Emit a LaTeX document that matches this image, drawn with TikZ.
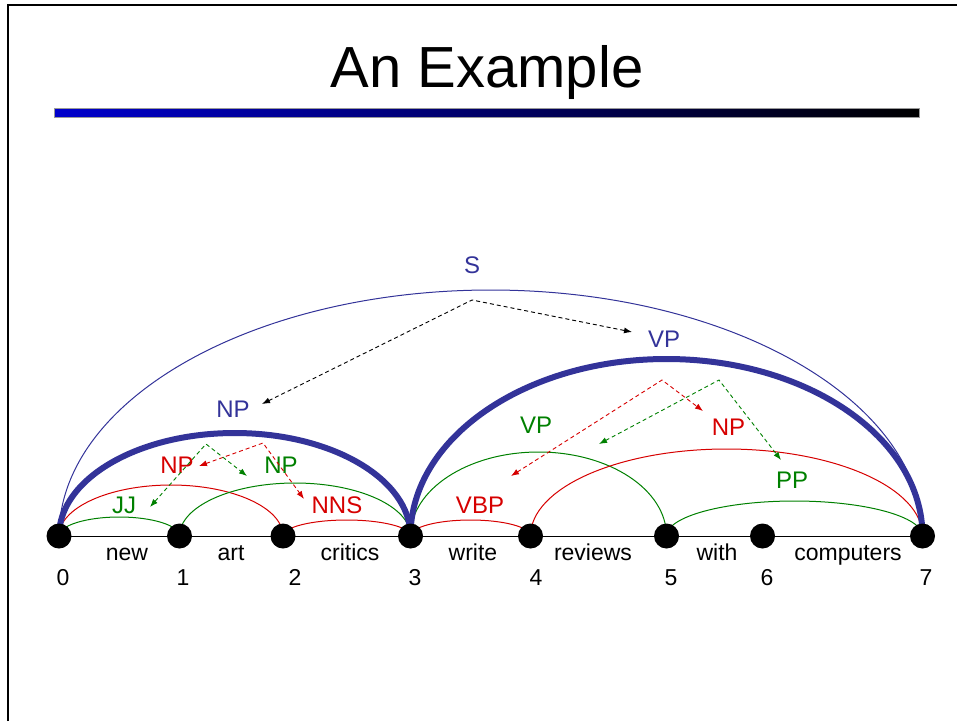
\documentclass[tikz,border=0pt]{standalone}
\usepackage{fontspec}
\setmainfont{Liberation Sans}
\usetikzlibrary{arrows.meta}
\definecolor{pblue}{RGB}{51,51,153}
\definecolor{pred}{RGB}{214,0,0}
\definecolor{pgreen}{RGB}{0,128,0}
\definecolor{barblue}{RGB}{0,0,204}
\tikzset{
  dotnode/.style={circle,fill=black,minimum size=25pt,inner sep=0pt},
  word/.style={anchor=base,inner sep=0pt,font=\fontsize{23}{26}\selectfont},
  lab/.style={anchor=base,inner sep=0pt,font=\fontsize{24}{27}\selectfont},
  thinarc/.style={line width=1pt},
  thickarc/.style={line width=6pt,pblue},
  darrow/.style={line width=0.9pt,dash pattern=on 4pt off 3pt,{Latex[length=8pt,width=6pt]}-{Latex[length=8pt,width=6pt]}},
}
\begin{document}
\begin{tikzpicture}[x=1pt,y=-1pt]
\useasboundingbox (0,0) rectangle (957,721);
% frame
\draw[line width=2pt] (8,721) -- (8,5) -- (957,5);
% title
\node[anchor=base,inner sep=0pt,font=\fontsize{58}{62}\selectfont] (title) at (487,87) {An Example};
\shade[left color=barblue,right color=black,draw=gray!80,line width=0.8pt] (54,108) rectangle (919,117);
% dots (coordinates first)
\coordinate (c0) at (59,536);
\coordinate (c1) at (179.5,536);
\coordinate (c2) at (283,536);
\coordinate (c3) at (410.5,536);
\coordinate (c4) at (530.5,536);
\coordinate (c5) at (666.5,536);
\coordinate (c6) at (762.5,536);
\coordinate (c7) at (922.5,536);
% baseline
\draw[line width=1pt] (c0) -- (c7);
% small arcs
\draw[thinarc,pgreen] (c0) arc[start angle=180,end angle=0,x radius=60.25pt,y radius=19pt];
\draw[thinarc,pred] (c0) arc[start angle=180,end angle=0,x radius=112pt,y radius=51pt];
\draw[thinarc,pgreen] (c1) arc[start angle=180,end angle=0,x radius=115.5pt,y radius=53pt];
\draw[thinarc,pred] (c2) arc[start angle=180,end angle=0,x radius=63.75pt,y radius=16pt];
\draw[thinarc,pred] (c3) arc[start angle=180,end angle=0,x radius=60pt,y radius=16pt];
\draw[thinarc,pgreen] (c3) arc[start angle=180,end angle=0,x radius=128pt,y radius=84pt];
\draw[thinarc,pred] (c4) arc[start angle=180,end angle=0,x radius=196pt,y radius=87pt];
\draw[thinarc,pgreen] (c5) arc[start angle=180,end angle=0,x radius=128pt,y radius=35pt];
% big arcs
\draw[thinarc,pblue] (c0) arc[start angle=180,end angle=0,x radius=431.75pt,y radius=246pt];
\draw[thickarc] (c0) arc[start angle=180,end angle=0,x radius=175.75pt,y radius=103pt];
\draw[thickarc] (c3) arc[start angle=180,end angle=0,x radius=256pt,y radius=177pt];
% dots
\foreach \i in {0,...,7} { \node[dotnode] (d\i) at (c\i) {}; }
% words
\node[word] (w1) at (127,560) {new};
\node[word] (w2) at (231,560) {art};
\node[word] (w3) at (350,560) {critics};
\node[word] (w4) at (473,560) {write};
\node[word] (w5) at (593,560) {reviews};
\node[word] (w6) at (717,560) {with};
\node[word] (w7) at (848,560) {computers};
% numbers
\node[word] (n0) at (63,585) {0};
\node[word] (n1) at (183,585) {1};
\node[word] (n2) at (295,585) {2};
\node[word] (n3) at (415,585) {3};
\node[word] (n4) at (536,585) {4};
\node[word] (n5) at (671,585) {5};
\node[word] (n6) at (767,585) {6};
\node[word] (n7) at (926,585) {7};
% labels
\node[lab,pblue] (lS) at (472,273) {S};
\node[lab,pblue] (lVP) at (664,347) {VP};
\node[lab,pblue] (lNP) at (233,417) {NP};
\node[lab,pred] (lNPa) at (177,473) {NP};
\node[lab,pgreen] (lNPb) at (281,473) {NP};
\node[lab,pgreen] (lJJ) at (124,513) {JJ};
\node[lab,pred] (lNNS) at (337,513) {NNS};
\node[lab,pgreen] (lVPb) at (536,433) {VP};
\node[lab,pred] (lVBP) at (480,513) {VBP};
\node[lab,pred] (lNPc) at (728.5,435) {NP};
\node[lab,pgreen] (lPP) at (792,488) {PP};
% dashed arrows
\coordinate (sA) at (472,300);
\coordinate (sL) at (262,404);
\coordinate (sR) at (632,332);
\draw[darrow,black] (sL) -- (sA) -- (sR);
\coordinate (rA) at (263,443);
\coordinate (rL) at (199,466);
\coordinate (rR) at (304,499);
\draw[darrow,pred] (rL) -- (rA) -- (rR);
\coordinate (gA) at (206,444);
\coordinate (gL) at (150,507);
\coordinate (gR) at (247,476);
\draw[darrow,pgreen] (gL) -- (gA) -- (gR);
\coordinate (vrA) at (662,380);
\coordinate (vrL) at (511,476);
\coordinate (vrR) at (703,411);
\draw[darrow,pred] (vrL) -- (vrA) -- (vrR);
\coordinate (vgA) at (719,380);
\coordinate (vgL) at (599,444);
\coordinate (vgR) at (781,460);
\draw[darrow,pgreen] (vgL) -- (vgA) -- (vgR);
\end{tikzpicture}
\end{document}
